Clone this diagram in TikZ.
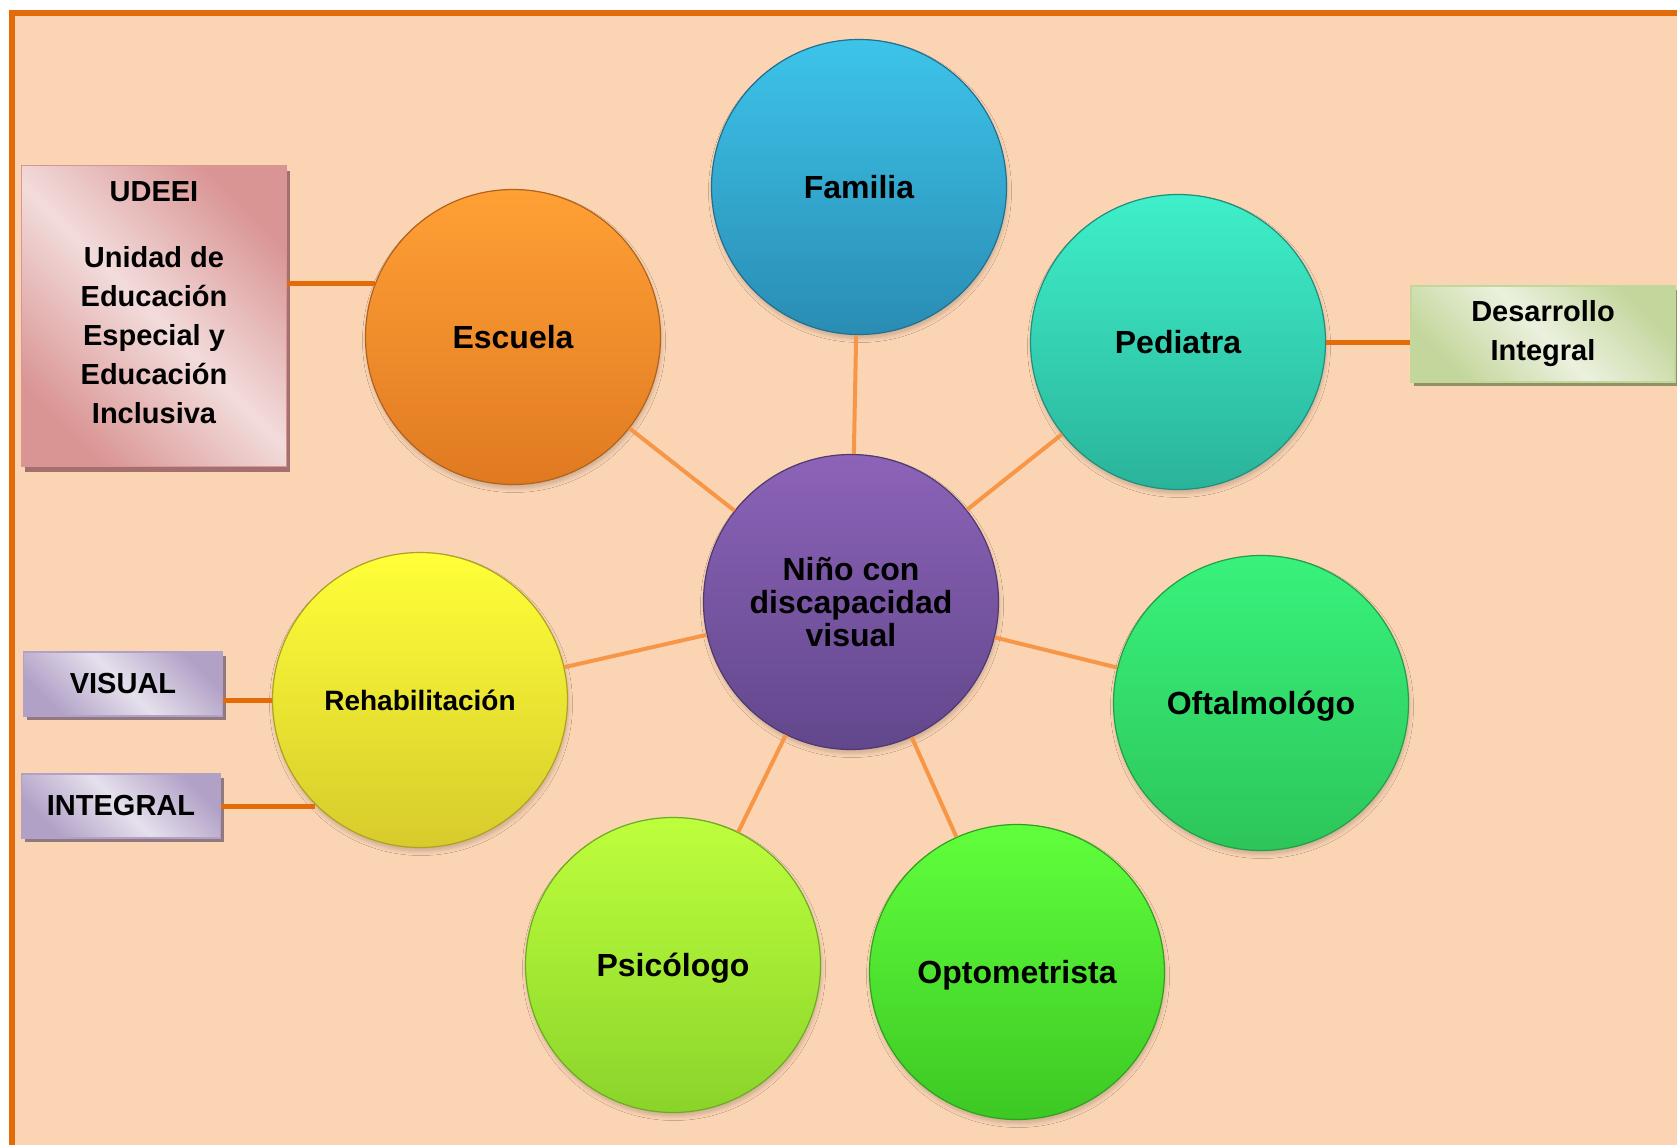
\documentclass[tikz,border=0pt]{standalone}
\usepackage{fontspec}
\setmainfont{Liberation Sans}
\usepackage{xcolor}
\usetikzlibrary{shadows,shadows.blur}

\definecolor{peach}{HTML}{FBD4B4}
\definecolor{darkorange}{HTML}{E36C09}
\definecolor{lightorange}{HTML}{F79646}
\definecolor{famtop}{HTML}{3DC4EA}\definecolor{fambot}{HTML}{2A8CB3}
\definecolor{esctop}{HTML}{FFA035}\definecolor{escbot}{HTML}{E07A22}
\definecolor{pedtop}{HTML}{3EF0CA}\definecolor{pedbot}{HTML}{2AB39B}
\definecolor{nintop}{HTML}{8C63B8}\definecolor{ninbot}{HTML}{62478C}
\definecolor{rehtop}{HTML}{FFFF38}\definecolor{rehbot}{HTML}{D7CB2C}
\definecolor{ofttop}{HTML}{38F27C}\definecolor{oftbot}{HTML}{2DC55A}
\definecolor{psitop}{HTML}{BEFF3C}\definecolor{psibot}{HTML}{8AD42B}
\definecolor{opttop}{HTML}{60FF3C}\definecolor{optbot}{HTML}{3DC824}
\definecolor{pinklight}{HTML}{F2DCDB}\definecolor{pinkdark}{HTML}{D99594}
\definecolor{greenlight}{HTML}{EBF1DE}\definecolor{greendark}{HTML}{C3D69B}
\definecolor{lilaclight}{HTML}{E5E0EC}\definecolor{lilacdark}{HTML}{B2A1C7}

\begin{document}
\begin{tikzpicture}[x=1pt,y=-1pt,
  bubble/.style={circle,minimum size=295pt,inner sep=0pt,align=center,line width=1.2pt,
    text depth=0pt,font=\fontsize{32}{33}\selectfont\bfseries,
    blur shadow={shadow xshift=1pt,shadow yshift=-4pt,shadow opacity=18,shadow blur radius=4pt}},
  card/.style={draw,line width=1.5pt,align=center,inner sep=0pt,
    font=\fontsize{29}{39}\selectfont\bfseries},
  spoke/.style={lightorange,line width=4pt},
  link/.style={darkorange,line width=5pt}
]
\useasboundingbox (0,0) rectangle (1677,1145);
\fill[peach] (12,13) rectangle (1677,1145);
\draw[darkorange,line width=6pt] (12,1145) -- (12,13) -- (1677,13);

\node[bubble,top color=nintop,bottom color=ninbot,draw=ninbot!80!black] (nino) at (851,602) {Niño con\\discapacidad\\visual};
\node[bubble,top color=famtop,bottom color=fambot,draw=fambot!80!black] (familia) at (859,187) {Familia};
\node[bubble,top color=esctop,bottom color=escbot,draw=escbot!80!black] (escuela) at (513,337) {Escuela};
\node[bubble,top color=pedtop,bottom color=pedbot,draw=pedbot!80!black] (pediatra) at (1178,342) {Pediatra};
\node[bubble,top color=rehtop,bottom color=rehbot,draw=rehbot!80!black,
  font=\fontsize{28}{33}\selectfont\bfseries] (rehab) at (420,700) {Rehabilitación};
\node[bubble,top color=ofttop,bottom color=oftbot,draw=oftbot!80!black] (oftalmologo) at (1261,703) {Oftalmológo};
\node[bubble,top color=psitop,bottom color=psibot,draw=psibot!80!black] (psicologo) at (673,965) {Psicólogo};
\node[bubble,top color=opttop,bottom color=optbot,draw=optbot!80!black] (optometrista) at (1017,972) {Optometrista};

\node[card,minimum width=265pt,minimum height=301pt,draw=pinkdark,
  top color=pinkdark,bottom color=pinkdark,middle color=pinklight,shading angle=-45,
  drop shadow={shadow xshift=3pt,shadow yshift=-5pt,fill=pinkdark!75!black,opacity=1}]
  (udeei) at (154,316) {UDEEI\\[27pt]Unidad de\\Educación\\Especial y\\Educación\\Inclusiva\\[-12pt]\mbox{}};
\node[card,minimum width=264pt,minimum height=96pt,draw=greendark,
  top color=greendark,bottom color=greendark,middle color=greenlight,shading angle=-45,
  drop shadow={shadow xshift=3pt,shadow yshift=-4pt,fill=greendark!70!black!80!brown,opacity=1}]
  (desarrollo) at (1543,334) {Desarrollo\\Integral};
\node[card,minimum width=199pt,minimum height=64pt,draw=lilacdark,
  top color=lilacdark,bottom color=lilacdark,middle color=lilaclight,shading angle=-45,
  drop shadow={shadow xshift=3pt,shadow yshift=-4pt,fill=lilacdark!70!brown!80!black,opacity=1}]
  (visual) at (123,684) {VISUAL};
\node[card,minimum width=199pt,minimum height=64pt,draw=lilacdark,
  top color=lilacdark,bottom color=lilacdark,middle color=lilaclight,shading angle=-45,
  drop shadow={shadow xshift=3pt,shadow yshift=-4pt,fill=lilacdark!70!brown!80!black,opacity=1}]
  (integral) at (121,806) {INTEGRAL};

\draw[spoke] (nino) -- (familia);
\draw[spoke] (nino) -- (escuela);
\draw[spoke] (nino) -- (pediatra);
\draw[spoke] (nino) -- (rehab);
\draw[spoke] (nino) -- (oftalmologo);
\draw[spoke] (nino) -- (psicologo);
\draw[spoke] (nino) -- (optometrista);

\draw[link] (udeei.east |- escuela.159) -- (escuela.159);
\draw[link] (pediatra.east) -- (pediatra.east -| desarrollo.west);
\draw[link] (visual.east |- rehab.west) -- (rehab.west);
\draw[link] (integral.east) -- (integral.east -| rehab.225);
\end{tikzpicture}
\end{document}
